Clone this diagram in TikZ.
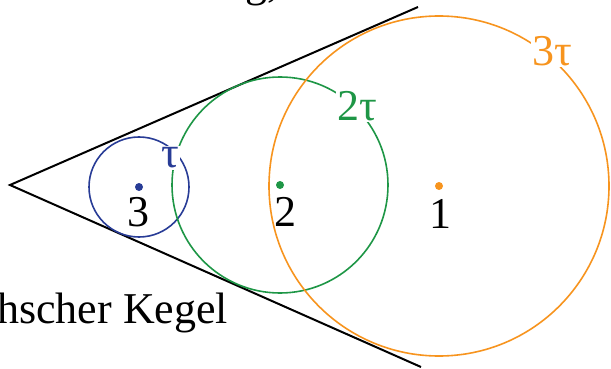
\documentclass[tikz,border=0pt]{standalone}
\usepackage{fontspec}
\setmainfont{Liberation Serif}
\definecolor{cblue}{RGB}{40,60,150}
\definecolor{cgreen}{RGB}{30,150,70}
\definecolor{corange}{RGB}{247,148,30}
\begin{document}
\begin{tikzpicture}[x=1pt,y=-1pt,
  big/.style={font=\fontsize{44}{50}\selectfont, inner sep=0pt},
  lbl/.style={big, fill=white, inner sep=1.5pt},
  cone/.style={line width=2pt, black},
  circ/.style={line width=1.6pt},
  dotc/.style={circle, inner sep=0pt, minimum size=8pt}]
\useasboundingbox (0,0) rectangle (611,369);
\coordinate (apex) at (10,185);
\coordinate (up) at (418,7);
\coordinate (lo) at (421,367);
\draw[cone] (up) -- (apex) -- (lo);
\coordinate (c3) at (139,187);
\coordinate (c2) at (280,185);
\coordinate (c1) at (439,186);
\draw[circ, cblue] (c3) circle[radius=50pt];
\draw[circ, cgreen] (c2) circle[radius=108pt];
\draw[circ, corange] (c1) circle[radius=170pt];
\node[dotc, fill=cblue] (d3) at (c3) {};
\node[dotc, fill=cgreen] (d2) at (c2) {};
\node[dotc, fill=corange] (d1) at (c1) {};
\node[lbl, text=cblue] (t1) at (170,158) {τ};
\node[lbl, text=cgreen] (t2) at (357,106) {2τ};
\node[lbl, text=corange] (t3) at (552,51) {3τ};
\node[big, anchor=base] (n3) at (138,226) {3};
\node[big, anchor=base] (n2) at (285,226) {2};
\node[big, anchor=base] (n1) at (440,228) {1};
\node[big, anchor=base west] (kegel) at (-3,323) {hscher Kegel};
\node[big, anchor=base west] (top) at (245,-3) {g,};
\end{tikzpicture}
\end{document}
